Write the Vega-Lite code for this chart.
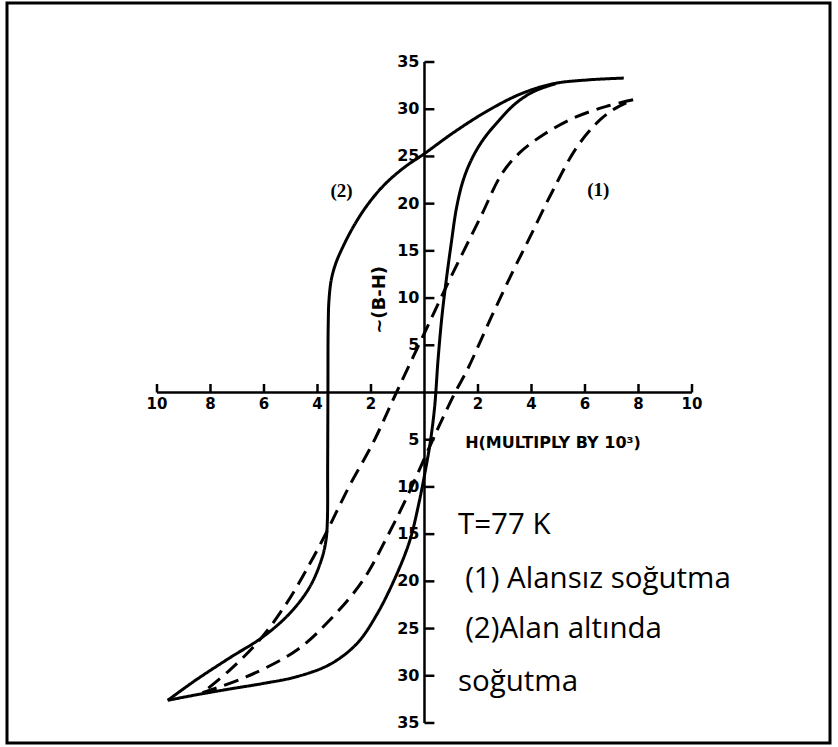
{
  "$schema": "https://vega.github.io/schema/vega-lite/v6.json",
  "width": 823,
  "height": 740,
  "padding": {"left": 7, "top": 3, "right": 8, "bottom": 4},
  "autosize": {"type": "none"},
  "background": "white",
  "config": {"view": {"stroke": "black", "strokeWidth": 3}},
  "datasets": {
    "one": [{}],
    "axisLines": [
      {"H": -10, "H2": 10, "B": 0, "B2": 0},
      {"H": 0, "H2": 0, "B": -35, "B2": 35}
    ],
    "hTicks": [
      {"H": -10, "label": "10"}, {"H": -8, "label": "8"}, {"H": -6, "label": "6"},
      {"H": -4, "label": "4"}, {"H": -2, "label": "2"}, {"H": 2, "label": "2"},
      {"H": 4, "label": "4"}, {"H": 6, "label": "6"}, {"H": 8, "label": "8"},
      {"H": 10, "label": "10"}
    ],
    "bTicks": [
      {"B": 35, "label": "35"}, {"B": 30, "label": "30"}, {"B": 25, "label": "25"},
      {"B": 20, "label": "20"}, {"B": 15, "label": "15"}, {"B": 10, "label": "10"},
      {"B": 5, "label": "5"}, {"B": -5, "label": "5"}, {"B": -10, "label": "10"},
      {"B": -15, "label": "15"}, {"B": -20, "label": "20"}, {"B": -25, "label": "25"},
      {"B": -30, "label": "30"}, {"B": -35, "label": "35"}
    ],
    "loops": [
      {"branch": "fc_down", "cooling": "FC", "i": 0, "H": 7.45, "B": 33.3},
      {"branch": "fc_down", "cooling": "FC", "i": 1, "H": 6.08, "B": 33.1},
      {"branch": "fc_down", "cooling": "FC", "i": 2, "H": 4.81, "B": 32.7},
      {"branch": "fc_down", "cooling": "FC", "i": 3, "H": 3.58, "B": 31.6},
      {"branch": "fc_down", "cooling": "FC", "i": 4, "H": 2.34, "B": 29.8},
      {"branch": "fc_down", "cooling": "FC", "i": 5, "H": 1.07, "B": 27.5},
      {"branch": "fc_down", "cooling": "FC", "i": 6, "H": 0.0, "B": 25.3},
      {"branch": "fc_down", "cooling": "FC", "i": 7, "H": -0.75, "B": 23.85},
      {"branch": "fc_down", "cooling": "FC", "i": 8, "H": -1.5, "B": 22.0},
      {"branch": "fc_down", "cooling": "FC", "i": 9, "H": -2.15, "B": 19.8},
      {"branch": "fc_down", "cooling": "FC", "i": 10, "H": -2.65, "B": 17.6},
      {"branch": "fc_down", "cooling": "FC", "i": 11, "H": -3.02, "B": 15.6},
      {"branch": "fc_down", "cooling": "FC", "i": 12, "H": -3.3, "B": 13.8},
      {"branch": "fc_down", "cooling": "FC", "i": 13, "H": -3.48, "B": 12.0},
      {"branch": "fc_down", "cooling": "FC", "i": 14, "H": -3.57, "B": 9.8},
      {"branch": "fc_down", "cooling": "FC", "i": 15, "H": -3.6, "B": 7.0},
      {"branch": "fc_down", "cooling": "FC", "i": 16, "H": -3.61, "B": 0.0},
      {"branch": "fc_down", "cooling": "FC", "i": 17, "H": -3.62, "B": -8.0},
      {"branch": "fc_down", "cooling": "FC", "i": 18, "H": -3.63, "B": -13.5},
      {"branch": "fc_down", "cooling": "FC", "i": 19, "H": -3.68, "B": -15.6},
      {"branch": "fc_down", "cooling": "FC", "i": 20, "H": -3.84, "B": -17.6},
      {"branch": "fc_down", "cooling": "FC", "i": 21, "H": -4.29, "B": -20.6},
      {"branch": "fc_down", "cooling": "FC", "i": 22, "H": -5.04, "B": -23.4},
      {"branch": "fc_down", "cooling": "FC", "i": 23, "H": -6.05, "B": -25.9},
      {"branch": "fc_down", "cooling": "FC", "i": 24, "H": -7.28, "B": -28.1},
      {"branch": "fc_down", "cooling": "FC", "i": 25, "H": -8.52, "B": -30.4},
      {"branch": "fc_down", "cooling": "FC", "i": 26, "H": -9.6, "B": -32.6},

      {"branch": "fc_up", "cooling": "FC", "i": 0, "H": -9.6, "B": -32.6},
      {"branch": "fc_up", "cooling": "FC", "i": 1, "H": -8.5, "B": -32.0},
      {"branch": "fc_up", "cooling": "FC", "i": 2, "H": -7.28, "B": -31.4},
      {"branch": "fc_up", "cooling": "FC", "i": 3, "H": -6.0, "B": -30.8},
      {"branch": "fc_up", "cooling": "FC", "i": 4, "H": -4.78, "B": -30.1},
      {"branch": "fc_up", "cooling": "FC", "i": 5, "H": -3.54, "B": -28.8},
      {"branch": "fc_up", "cooling": "FC", "i": 6, "H": -2.53, "B": -26.6},
      {"branch": "fc_up", "cooling": "FC", "i": 7, "H": -1.78, "B": -23.5},
      {"branch": "fc_up", "cooling": "FC", "i": 8, "H": -1.03, "B": -19.2},
      {"branch": "fc_up", "cooling": "FC", "i": 9, "H": -0.54, "B": -15.6},
      {"branch": "fc_up", "cooling": "FC", "i": 10, "H": -0.2, "B": -11.6},
      {"branch": "fc_up", "cooling": "FC", "i": 11, "H": 0.05, "B": -8.0},
      {"branch": "fc_up", "cooling": "FC", "i": 12, "H": 0.22, "B": -5.2},
      {"branch": "fc_up", "cooling": "FC", "i": 13, "H": 0.38, "B": -1.5},
      {"branch": "fc_up", "cooling": "FC", "i": 14, "H": 0.51, "B": 3.6},
      {"branch": "fc_up", "cooling": "FC", "i": 15, "H": 0.65, "B": 8.0},
      {"branch": "fc_up", "cooling": "FC", "i": 16, "H": 0.8, "B": 11.6},
      {"branch": "fc_up", "cooling": "FC", "i": 17, "H": 1.0, "B": 15.8},
      {"branch": "fc_up", "cooling": "FC", "i": 18, "H": 1.2, "B": 19.6},
      {"branch": "fc_up", "cooling": "FC", "i": 19, "H": 1.45, "B": 22.5},
      {"branch": "fc_up", "cooling": "FC", "i": 20, "H": 1.78, "B": 24.8},
      {"branch": "fc_up", "cooling": "FC", "i": 21, "H": 2.2, "B": 26.8},
      {"branch": "fc_up", "cooling": "FC", "i": 22, "H": 2.75, "B": 28.7},
      {"branch": "fc_up", "cooling": "FC", "i": 23, "H": 3.4, "B": 30.6},
      {"branch": "fc_up", "cooling": "FC", "i": 24, "H": 4.1, "B": 31.9},
      {"branch": "fc_up", "cooling": "FC", "i": 25, "H": 4.9, "B": 32.7},

      {"branch": "zfc_down", "cooling": "ZFC", "i": 0, "H": 7.8, "B": 31.0},
      {"branch": "zfc_down", "cooling": "ZFC", "i": 1, "H": 6.8, "B": 30.3},
      {"branch": "zfc_down", "cooling": "ZFC", "i": 2, "H": 5.6, "B": 29.1},
      {"branch": "zfc_down", "cooling": "ZFC", "i": 3, "H": 4.5, "B": 27.4},
      {"branch": "zfc_down", "cooling": "ZFC", "i": 4, "H": 3.6, "B": 25.5},
      {"branch": "zfc_down", "cooling": "ZFC", "i": 5, "H": 2.9, "B": 23.2},
      {"branch": "zfc_down", "cooling": "ZFC", "i": 6, "H": 2.1, "B": 18.6},
      {"branch": "zfc_down", "cooling": "ZFC", "i": 7, "H": 1.0, "B": 12.3},
      {"branch": "zfc_down", "cooling": "ZFC", "i": 8, "H": 0.0, "B": 6.3},
      {"branch": "zfc_down", "cooling": "ZFC", "i": 9, "H": -1.05, "B": 0.0},
      {"branch": "zfc_down", "cooling": "ZFC", "i": 10, "H": -1.9, "B": -5.2},
      {"branch": "zfc_down", "cooling": "ZFC", "i": 11, "H": -2.79, "B": -9.8},
      {"branch": "zfc_down", "cooling": "ZFC", "i": 12, "H": -3.3, "B": -12.7},
      {"branch": "zfc_down", "cooling": "ZFC", "i": 13, "H": -3.7, "B": -15.0},
      {"branch": "zfc_down", "cooling": "ZFC", "i": 14, "H": -4.3, "B": -18.2},
      {"branch": "zfc_down", "cooling": "ZFC", "i": 15, "H": -5.15, "B": -22.3},
      {"branch": "zfc_down", "cooling": "ZFC", "i": 16, "H": -6.16, "B": -26.2},
      {"branch": "zfc_down", "cooling": "ZFC", "i": 17, "H": -7.28, "B": -29.4},
      {"branch": "zfc_down", "cooling": "ZFC", "i": 18, "H": -8.3, "B": -31.8},

      {"branch": "zfc_up", "cooling": "ZFC", "i": 0, "H": -8.3, "B": -31.8},
      {"branch": "zfc_up", "cooling": "ZFC", "i": 1, "H": -6.65, "B": -30.1},
      {"branch": "zfc_up", "cooling": "ZFC", "i": 2, "H": -4.78, "B": -27.3},
      {"branch": "zfc_up", "cooling": "ZFC", "i": 3, "H": -3.54, "B": -24.1},
      {"branch": "zfc_up", "cooling": "ZFC", "i": 4, "H": -2.3, "B": -19.9},
      {"branch": "zfc_up", "cooling": "ZFC", "i": 5, "H": -1.4, "B": -15.3},
      {"branch": "zfc_up", "cooling": "ZFC", "i": 6, "H": -0.66, "B": -11.1},
      {"branch": "zfc_up", "cooling": "ZFC", "i": 7, "H": 0.2, "B": -5.7},
      {"branch": "zfc_up", "cooling": "ZFC", "i": 8, "H": 0.7, "B": -2.6},
      {"branch": "zfc_up", "cooling": "ZFC", "i": 9, "H": 1.2, "B": 0.3},
      {"branch": "zfc_up", "cooling": "ZFC", "i": 10, "H": 1.6, "B": 2.4},
      {"branch": "zfc_up", "cooling": "ZFC", "i": 11, "H": 2.5, "B": 8.0},
      {"branch": "zfc_up", "cooling": "ZFC", "i": 12, "H": 3.3, "B": 12.8},
      {"branch": "zfc_up", "cooling": "ZFC", "i": 13, "H": 3.95, "B": 16.5},
      {"branch": "zfc_up", "cooling": "ZFC", "i": 14, "H": 4.8, "B": 21.4},
      {"branch": "zfc_up", "cooling": "ZFC", "i": 15, "H": 5.7, "B": 26.0},
      {"branch": "zfc_up", "cooling": "ZFC", "i": 16, "H": 6.57, "B": 28.9},
      {"branch": "zfc_up", "cooling": "ZFC", "i": 17, "H": 7.2, "B": 30.2},
      {"branch": "zfc_up", "cooling": "ZFC", "i": 18, "H": 7.8, "B": 31.0}
    ]
  },
  "layer": [
    {
      "data": {"name": "axisLines"},
      "mark": {"type": "rule", "color": "black", "strokeWidth": 2.5},
      "encoding": {
        "x": {"field": "H", "type": "quantitative", "scale": {"domain": [-15.607, 15.159], "nice": false, "zero": false}, "axis": null},
        "x2": {"field": "H2"},
        "y": {"field": "B", "type": "quantitative", "scale": {"domain": [-37.12, 41.25], "nice": false, "zero": false}, "axis": null},
        "y2": {"field": "B2"}
      }
    },
    {
      "data": {"name": "hTicks"},
      "mark": {"type": "rule", "color": "black", "strokeWidth": 2.5},
      "encoding": {
        "x": {"field": "H", "type": "quantitative", "scale": {"domain": [-15.607, 15.159], "nice": false, "zero": false}, "axis": null},
        "y": {"datum": 0, "type": "quantitative", "scale": {"domain": [-37.12, 41.25], "nice": false, "zero": false}, "axis": null},
        "y2": {"datum": 0.9}
      }
    },
    {
      "data": {"name": "hTicks"},
      "mark": {"type": "text", "font": "DejaVu Sans", "fontWeight": "bold", "fontSize": 15, "baseline": "top", "align": "center", "dy": 5, "color": "black"},
      "encoding": {
        "x": {"field": "H", "type": "quantitative", "scale": {"domain": [-15.607, 15.159], "nice": false, "zero": false}, "axis": null},
        "y": {"datum": 0, "type": "quantitative", "scale": {"domain": [-37.12, 41.25], "nice": false, "zero": false}, "axis": null},
        "text": {"field": "label"}
      }
    },
    {
      "data": {"name": "bTicks"},
      "mark": {"type": "rule", "color": "black", "strokeWidth": 2.5},
      "encoding": {
        "x": {"datum": 0, "type": "quantitative", "scale": {"domain": [-15.607, 15.159], "nice": false, "zero": false}, "axis": null},
        "x2": {"datum": 0.37},
        "y": {"field": "B", "type": "quantitative", "scale": {"domain": [-37.12, 41.25], "nice": false, "zero": false}, "axis": null}
      }
    },
    {
      "data": {"name": "bTicks"},
      "mark": {"type": "text", "font": "DejaVu Sans", "fontWeight": "bold", "fontSize": 16, "baseline": "middle", "align": "right", "dx": -5, "color": "black"},
      "encoding": {
        "x": {"datum": 0, "type": "quantitative", "scale": {"domain": [-15.607, 15.159], "nice": false, "zero": false}, "axis": null},
        "y": {"field": "B", "type": "quantitative", "scale": {"domain": [-37.12, 41.25], "nice": false, "zero": false}, "axis": null},
        "text": {"field": "label"}
      }
    },
    {
      "data": {"name": "loops"},
      "mark": {"type": "line", "interpolate": "catmull-rom", "strokeWidth": 3, "color": "black", "strokeCap": "butt"},
      "encoding": {
        "x": {"field": "H", "type": "quantitative", "scale": {"domain": [-15.607, 15.159], "nice": false, "zero": false}, "axis": null},
        "y": {"field": "B", "type": "quantitative", "scale": {"domain": [-37.12, 41.25], "nice": false, "zero": false}, "axis": null},
        "detail": {"field": "branch", "type": "nominal"},
        "order": {"field": "i", "type": "quantitative"},
        "strokeDash": {"field": "cooling", "type": "nominal", "scale": {"domain": ["ZFC", "FC"], "range": [[15, 8], [1, 0]]}, "legend": null}
      }
    },
    {
      "data": {"name": "one"},
      "mark": {"type": "text", "font": "DejaVu Sans", "fontWeight": "bold", "fontSize": 16, "align": "left", "baseline": "middle", "color": "black"},
      "encoding": {
        "x": {"datum": 1.52, "type": "quantitative", "scale": {"domain": [-15.607, 15.159], "nice": false, "zero": false}, "axis": null},
        "y": {"datum": -5.4, "type": "quantitative", "scale": {"domain": [-37.12, 41.25], "nice": false, "zero": false}, "axis": null},
        "text": {"value": "H(MULTIPLY BY 10³)"}
      }
    },
    {
      "data": {"name": "one"},
      "mark": {"type": "text", "font": "DejaVu Sans", "fontWeight": "bold", "fontSize": 18, "align": "center", "baseline": "middle", "angle": 270, "color": "black"},
      "encoding": {
        "x": {"datum": -1.65, "type": "quantitative", "scale": {"domain": [-15.607, 15.159], "nice": false, "zero": false}, "axis": null},
        "y": {"datum": 9.8, "type": "quantitative", "scale": {"domain": [-37.12, 41.25], "nice": false, "zero": false}, "axis": null},
        "text": {"value": "~(B-H)"}
      }
    },
    {
      "data": {"name": "one"},
      "mark": {"type": "text", "font": "Liberation Serif", "fontWeight": "bold", "fontSize": 19, "align": "center", "baseline": "middle", "color": "black"},
      "encoding": {
        "x": {"datum": -3.1, "type": "quantitative", "scale": {"domain": [-15.607, 15.159], "nice": false, "zero": false}, "axis": null},
        "y": {"datum": 21.3, "type": "quantitative", "scale": {"domain": [-37.12, 41.25], "nice": false, "zero": false}, "axis": null},
        "text": {"value": "(2)"}
      }
    },
    {
      "data": {"name": "one"},
      "mark": {"type": "text", "font": "Liberation Serif", "fontWeight": "bold", "fontSize": 19, "align": "center", "baseline": "middle", "color": "black"},
      "encoding": {
        "x": {"datum": 6.5, "type": "quantitative", "scale": {"domain": [-15.607, 15.159], "nice": false, "zero": false}, "axis": null},
        "y": {"datum": 21.4, "type": "quantitative", "scale": {"domain": [-37.12, 41.25], "nice": false, "zero": false}, "axis": null},
        "text": {"value": "(1)"}
      }
    },
    {
      "data": {"name": "one"},
      "mark": {"type": "text", "font": "Open Sans", "fontSize": 29.5, "align": "left", "baseline": "alphabetic", "color": "black"},
      "encoding": {
        "x": {"datum": 1.25, "type": "quantitative", "scale": {"domain": [-15.607, 15.159], "nice": false, "zero": false}, "axis": null},
        "y": {"datum": -15.0, "type": "quantitative", "scale": {"domain": [-37.12, 41.25], "nice": false, "zero": false}, "axis": null},
        "text": {"value": "T=77 K"}
      }
    },
    {
      "data": {"name": "one"},
      "mark": {"type": "text", "font": "Open Sans", "fontSize": 29.5, "align": "left", "baseline": "alphabetic", "color": "black"},
      "encoding": {
        "x": {"datum": 1.52, "type": "quantitative", "scale": {"domain": [-15.607, 15.159], "nice": false, "zero": false}, "axis": null},
        "y": {"datum": -20.7, "type": "quantitative", "scale": {"domain": [-37.12, 41.25], "nice": false, "zero": false}, "axis": null},
        "text": {"value": "(1) Alansız soğutma"}
      }
    },
    {
      "data": {"name": "one"},
      "mark": {"type": "text", "font": "Open Sans", "fontSize": 29.5, "align": "left", "baseline": "alphabetic", "color": "black"},
      "encoding": {
        "x": {"datum": 1.52, "type": "quantitative", "scale": {"domain": [-15.607, 15.159], "nice": false, "zero": false}, "axis": null},
        "y": {"datum": -26.0, "type": "quantitative", "scale": {"domain": [-37.12, 41.25], "nice": false, "zero": false}, "axis": null},
        "text": {"value": "(2)Alan altında"}
      }
    },
    {
      "data": {"name": "one"},
      "mark": {"type": "text", "font": "Open Sans", "fontSize": 29.5, "align": "left", "baseline": "alphabetic", "color": "black"},
      "encoding": {
        "x": {"datum": 1.25, "type": "quantitative", "scale": {"domain": [-15.607, 15.159], "nice": false, "zero": false}, "axis": null},
        "y": {"datum": -31.6, "type": "quantitative", "scale": {"domain": [-37.12, 41.25], "nice": false, "zero": false}, "axis": null},
        "text": {"value": "soğutma"}
      }
    }
  ]
}
